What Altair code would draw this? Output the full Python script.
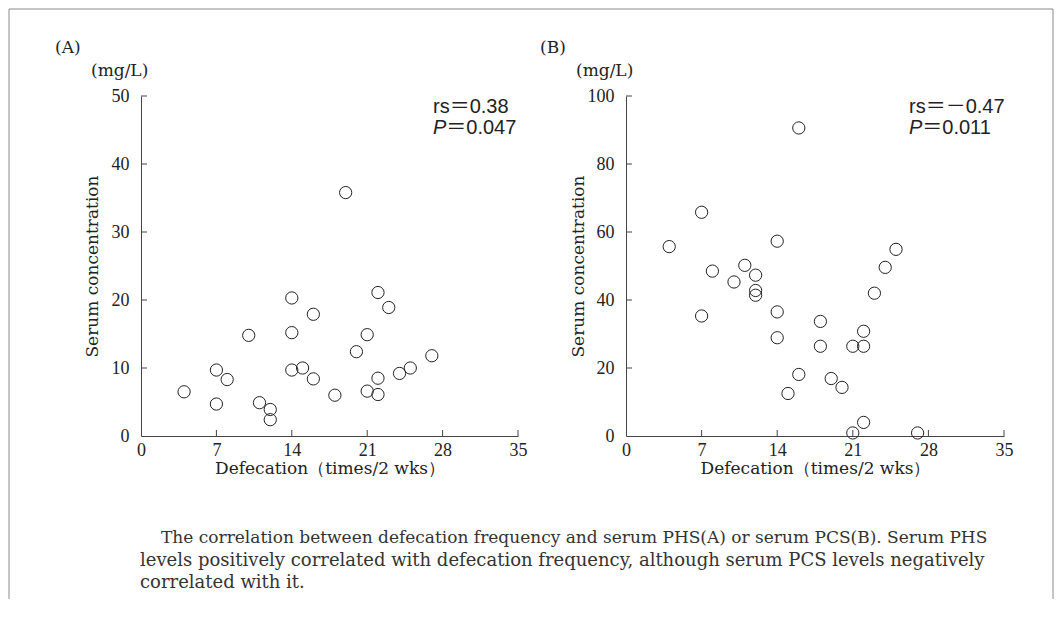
import altair as alt
import pandas as pd

# ---- data ----
a_freq = [4, 7, 7, 8, 10, 11, 12, 12, 14, 14, 14, 15, 16, 16, 18, 19, 20, 21, 21, 22, 22, 22, 23, 24, 25, 27]
a_conc = [6.5, 9.7, 4.7, 8.3, 14.8, 4.9, 3.9, 2.4, 20.3, 15.2, 9.7, 10.0, 17.9, 8.4, 6.0, 35.8,
          12.4, 14.9, 6.6, 21.1, 8.5, 6.1, 18.9, 9.2, 10.0, 11.8]
b_freq = [4, 7, 7, 8, 10, 11, 12, 12, 12, 14, 14, 14, 15, 16, 16, 18, 18, 19, 20, 21, 21, 22, 22, 22, 23, 24, 25, 27]
b_conc = [55.7, 65.8, 35.3, 48.5, 45.3, 50.2, 47.3, 42.8, 41.4, 57.3, 36.5, 28.9, 12.5, 90.6,
          18.1, 33.7, 26.4, 16.9, 14.3, 26.4, 0.9, 30.8, 26.4, 4.0, 42.0, 49.6, 54.9, 0.9]

x_ticks = [0, 7, 14, 21, 28, 35]
a_y_ticks = [0, 10, 20, 30, 40, 50]
b_y_ticks = [0, 20, 40, 60, 80, 100]

x_title = "Defecation（times/2 wks）"
y_title = "Serum concentration"
unit_label = "(mg/L)"
panel_labels = ["(A)", "(B)"]
rs_texts = ["rs＝0.38", "rs＝－0.47"]
p_values = ["＝0.047", "＝0.011"]
caption_lines = [
    "The correlation between defecation frequency and serum PHS(A) or serum PCS(B). Serum PHS",
    "levels positively correlated with defecation frequency, although serum PCS levels negatively",
    "correlated with it.",
]

# ---- styling ----
W_A, W_B, H = 377, 378, 340
SERIF = "DejaVu Serif"
LSERIF = "Liberation Serif"
SANS = "Liberation Sans, Noto Sans CJK JP, sans-serif"
INK = "#222222"
AXIS_C = "#444444"
FRAME_C = "#8a8a8a"

one = alt.Data(values=[{"k": 0}])


def txt(s, x, y, font, size, italic=False, color=INK):
    return alt.Chart(one).mark_text(
        text=s, font=font, fontSize=size,
        fontStyle="italic" if italic else "normal",
        align="left", baseline="alphabetic", color=color,
    ).encode(x=alt.value(x), y=alt.value(y))


def hline(x1, x2, y, color):
    return alt.Chart(one).mark_rule(color=color, strokeWidth=1).encode(
        x=alt.value(x1), x2=alt.value(x2), y=alt.value(y))


def vline(x, y1, y2, color):
    return alt.Chart(one).mark_rule(color=color, strokeWidth=1).encode(
        x=alt.value(x), y=alt.value(y1), y2=alt.value(y2))


def panel(freq, conc, ymax, yticks, label, rs, pval, width, rs_x, title_x, extra):
    df = pd.DataFrame({"freq": freq, "conc": conc})
    xs = alt.Scale(domain=[0, 35], nice=False, zero=False)
    ys = alt.Scale(domain=[0, ymax], nice=False)
    x_axis = alt.Axis(
        values=x_ticks, ticks=False, tickSize=0, grid=False,
        domainColor=AXIS_C, domainWidth=1,
        labelFont=LSERIF, labelFontSize=18, labelColor=INK, labelPadding=5,
        labelFlush=False, labelOverlap=False,
        title=x_title, titleFont=SERIF, titleFontSize=17, titleFontWeight="normal",
        titleColor=INK, titleY=37, titleBaseline="alphabetic")
    y_axis = alt.Axis(
        values=yticks, ticks=False, tickSize=0, grid=False,
        domainColor=AXIS_C, domainWidth=1,
        labelFont=LSERIF, labelFontSize=18, labelColor=INK, labelPadding=12,
        labelFlush=False, labelOverlap=False,
        title=y_title, titleFont=SERIF, titleFontSize=17, titleFontWeight="normal",
        titleColor=INK, titleX=title_x, titleY=H / 2)
    points = alt.Chart(df).mark_point(
        shape="circle", filled=False, size=150, strokeWidth=1, color=INK, opacity=1
    ).encode(
        x=alt.X("freq:Q", scale=xs, axis=x_axis),
        y=alt.Y("conc:Q", scale=ys, axis=y_axis),
    )
    xt = alt.Chart(pd.DataFrame({"freq": x_ticks[1:]})).mark_rule(color=AXIS_C, strokeWidth=1).encode(
        x=alt.X("freq:Q", scale=xs, axis=x_axis), y=alt.value(H), y2=alt.value(H - 6))
    yt = alt.Chart(pd.DataFrame({"conc": yticks[1:]})).mark_rule(color=AXIS_C, strokeWidth=1).encode(
        y=alt.Y("conc:Q", scale=ys, axis=y_axis), x=alt.value(0), x2=alt.value(6))
    layers = [points, xt, yt,
              txt(label, -86, -43, SERIF, 17),
              txt(unit_label, -50, -20, SERIF, 17),
              txt(rs, rs_x, 17, SANS, 20),
              txt("P", rs_x, 38, SANS, 20, italic=True),
              txt(pval, rs_x + 13.3, 38, SANS, 20)] + extra
    return alt.layer(*layers).properties(width=width, height=H)


frame = [hline(-132, 912, -87, FRAME_C), vline(-132, -87, 503, FRAME_C), vline(912, -87, 503, FRAME_C)]
caption = [txt(caption_lines[0], 20, 447, SERIF, 17, color="#333333"),
           txt(caption_lines[1], -1, 469.5, SERIF, 18, color="#333333"),
           txt(caption_lines[2], -1, 492, SERIF, 18, color="#333333")]

pa = panel(a_freq, a_conc, 50, a_y_ticks, panel_labels[0], rs_texts[0], p_values[0],
           W_A, 292, -40, frame + caption)
pb = panel(b_freq, b_conc, 100, b_y_ticks, panel_labels[1], rs_texts[1], p_values[1],
           W_B, 283, -39, [])

chart = alt.hconcat(pa, pb, spacing=108, bounds="flush").properties(
    padding=0, background="white"
).configure_view(strokeWidth=0)

chart.save("out.html", embed_options={"renderer": "svg", "actions": False})
